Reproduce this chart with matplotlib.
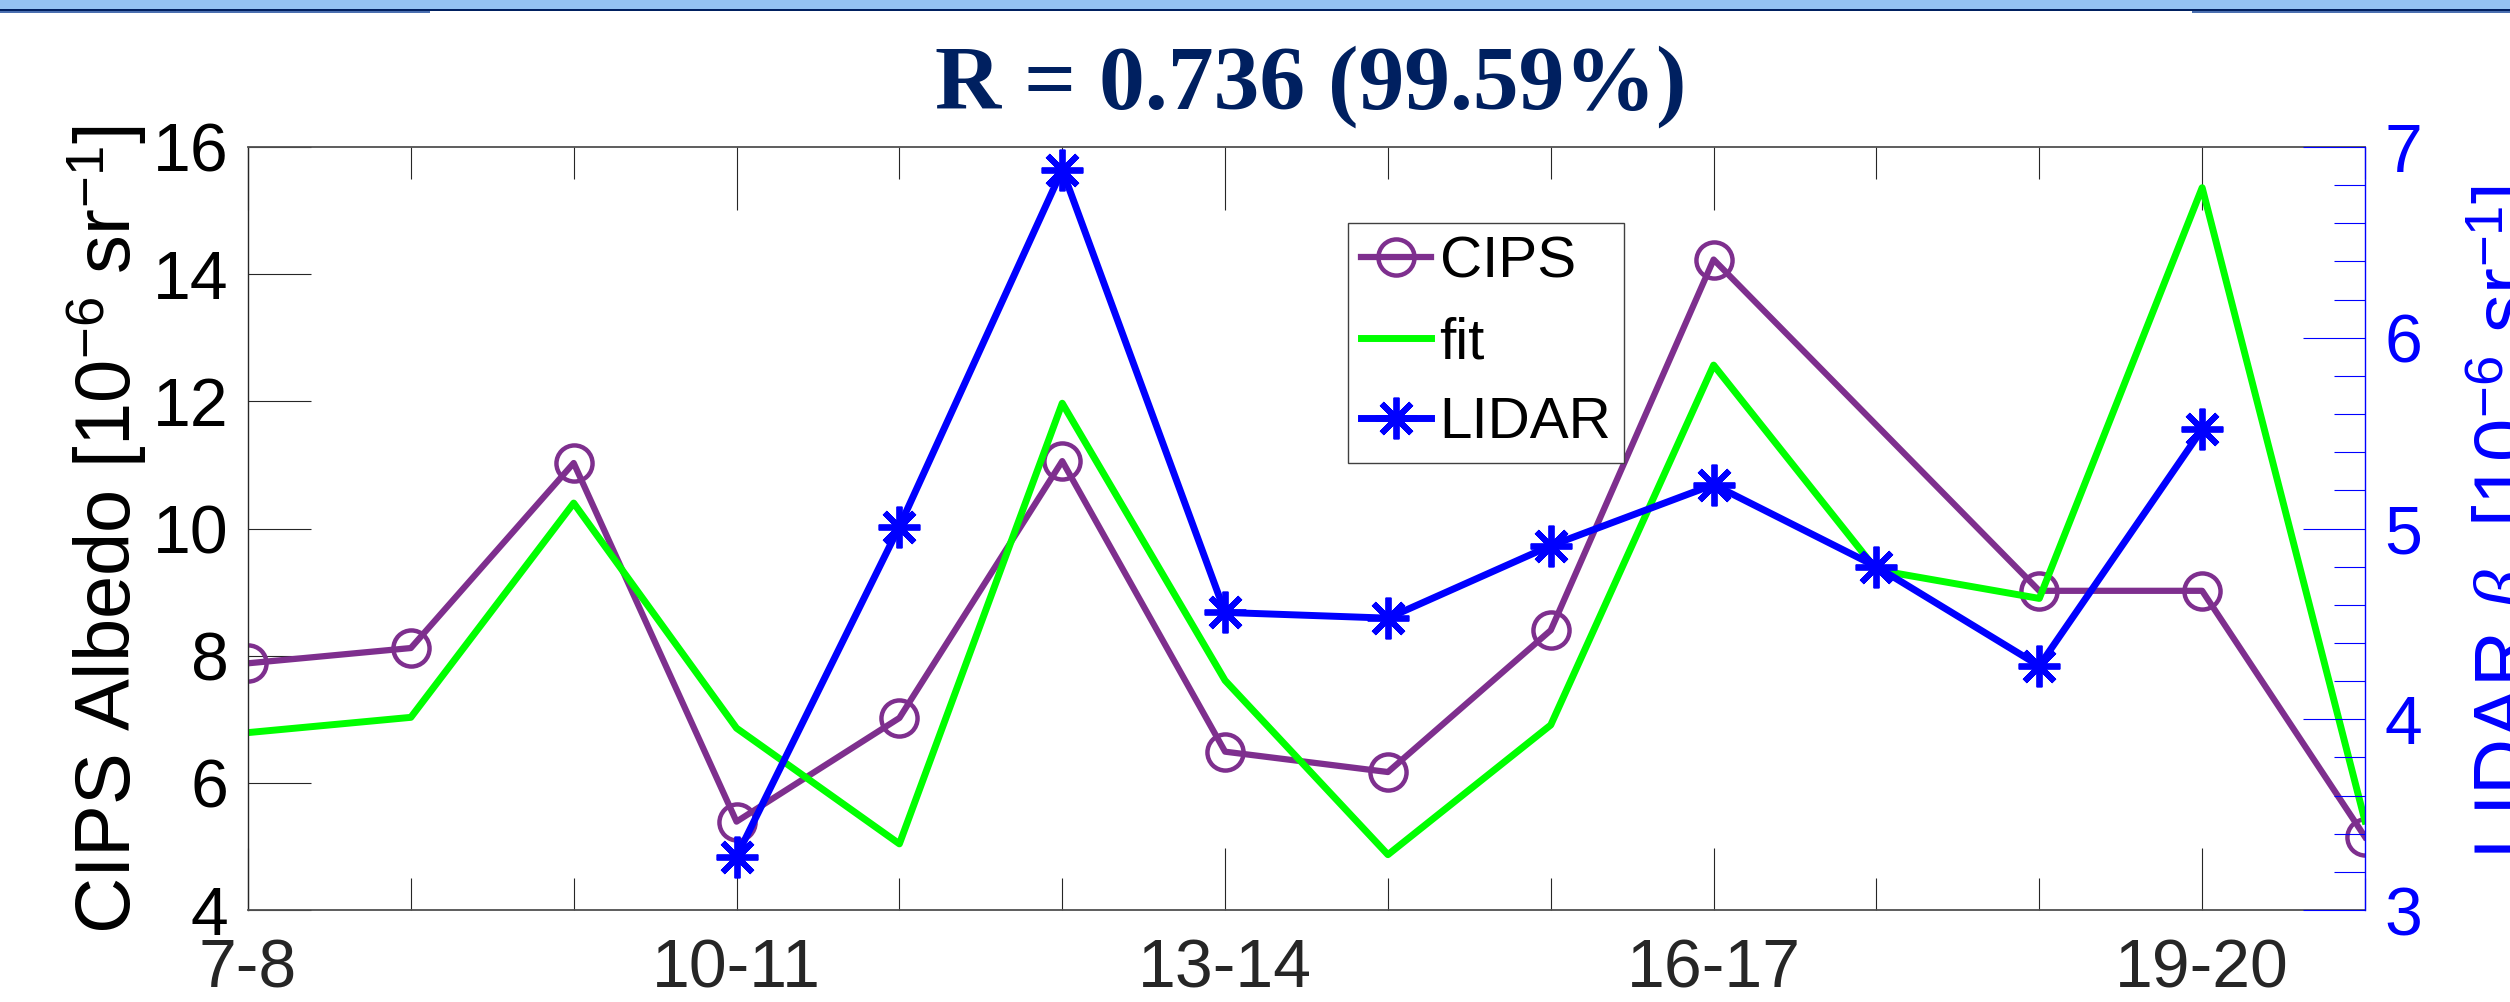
import numpy as np
import matplotlib
matplotlib.use('Agg')
import matplotlib.pyplot as plt
from matplotlib.patches import Rectangle

plt.rcParams['font.family'] = ['Liberation Sans', 'DejaVu Sans']
plt.rcParams['mathtext.fontset'] = 'custom'
plt.rcParams['mathtext.rm'] = 'Liberation Sans'
plt.rcParams['mathtext.it'] = 'Liberation Serif:italic'

# day pairs on the x axis
periods = ['7-8', '8-9', '9-10', '10-11', '11-12', '12-13', '13-14',
           '14-15', '15-16', '16-17', '17-18', '18-19', '19-20', '20-21']
shown_labels = ['7-8', '10-11', '13-14', '16-17', '19-20']

# CIPS albedo [1e-6 sr-1], no value for 17-18
cips = [7.88, 8.12, 11.03, 5.39, 7.02, 11.06, 6.49,
        6.17, 8.40, 14.23, np.nan, 9.02, 9.02, 5.15]
# linear fit of LIDAR onto CIPS scale
fit = [6.79, 7.03, 10.40, 6.86, 5.04, 11.97, 7.61,
       4.87, 6.91, 12.57, 9.35, 8.90, 15.36, 5.40]
# LIDAR beta [1e-6 sr-1]
lidar = [np.nan, np.nan, np.nan, 3.28, 5.01, 6.88, 4.56,
         4.53, 4.91, 5.23, 4.80, 4.28, 5.52, np.nan]

title = 'R = 0.736 (99.59%)'

purple = '#7E2F8E'
navy = '#002060'
W, H = 2510, 1002

fig = plt.figure(figsize=(W / 100, H / 100), dpi=100)

# slide header strip
fig.patches.append(Rectangle((0, 1 - 9 / H), 1, 9 / H, transform=fig.transFigure,
                             facecolor='#94C2F2', edgecolor='none'))
fig.patches.append(Rectangle((0, 1 - 11 / H), 1, 2 / H, transform=fig.transFigure,
                             facecolor=navy, edgecolor='none'))
fig.patches.append(Rectangle((0, 1 - 12.5 / H), 430 / W, 1.5 / H, transform=fig.transFigure,
                             facecolor='#4A6FB0', edgecolor='none'))
fig.patches.append(Rectangle((2192 / W, 1 - 12.5 / H), 1 - 2192 / W, 1.5 / H,
                             transform=fig.transFigure, facecolor='#4A6FB0', edgecolor='none'))

ax = fig.add_axes([248 / W, 1 - 910 / H, (2365 - 248) / W, (910 - 147) / H])
ax2 = ax.twinx()

x = np.arange(len(periods))
cips = np.array(cips)
lidar = np.array(lidar)
ok_c = ~np.isnan(cips)
ok_l = ~np.isnan(lidar)

l1, = ax.plot(x[ok_c], cips[ok_c], '-o', color=purple, lw=4.5, ms=26,
              mfc='none', mew=3.2, label='CIPS')
l2, = ax.plot(x, fit, '-', color='#00FF00', lw=5, label='fit')
l3, = ax2.plot(x[ok_l], lidar[ok_l], '-', color='#0000FF', lw=5,
               marker=(8, 2, 0), ms=30, mew=4.2, label='LIDAR')

ax.set_xlim(0, 13)
ax.set_ylim(4, 16)
ax2.set_ylim(3, 7)

ax.set_xticks([periods.index(p) for p in shown_labels])
ax.set_xticklabels(shown_labels)
ax.set_xticks(x, minor=True)
ax.set_yticks(np.arange(4, 17, 2))
ax.tick_params(axis='x', which='major', direction='in', length=45, width=0.8,
               top=True, labelsize=49, labelcolor='#262626', color='#262626', pad=20)
ax.tick_params(axis='x', which='minor', direction='in', length=23, width=0.8,
               top=True, color='#262626')
ax.tick_params(axis='y', which='major', direction='in', length=45, width=0.8,
               labelsize=49, labelcolor='black', color='#262626', pad=14,
               right=False)

ax2.set_yticks(np.arange(3, 7.1, 1))
ax2.set_yticks(np.arange(3, 7.01, 0.2), minor=True)
ax2.tick_params(axis='y', which='major', direction='in', length=45, width=0.8,
                labelsize=49, colors='#0000FF', pad=14)
ax2.tick_params(axis='y', which='minor', direction='in', length=22, width=0.8,
                colors='#0000FF')

for s in ['top', 'bottom']:
    ax.spines[s].set_color('#505050')
    ax.spines[s].set_linewidth(1.3)
ax.spines['left'].set_color('#262626')
ax.spines['left'].set_linewidth(1.0)
ax.spines['right'].set_visible(False)
for s in ['top', 'bottom', 'left']:
    ax2.spines[s].set_visible(False)
ax2.spines['right'].set_color('#0000FF')
ax2.spines['right'].set_linewidth(1.0)

leg = ax2.legend(handles=[l1, l2, l3], loc='upper left',
                 bbox_to_anchor=(0.5196, 0.9004), fontsize=42, frameon=True,
                 fancybox=False, edgecolor='#404040', framealpha=1,
                 handlelength=1.2, handletextpad=0.15, borderpad=0.22,
                 labelspacing=0.45, borderaxespad=0, numpoints=1)
leg.get_frame().set_linewidth(1.0)

fig.text(1311 / W, 1 - 109 / H, title, ha='center', va='baseline',
         fontsize=66, fontweight='bold', color=navy,
         family=['Liberation Serif', 'DejaVu Serif'])

# axis titles placed by their baseline (letters rotated, tops facing left)
fig.text(130 / W, 1 - 529.5 / H, 'CIPS Albedo [10$^{-6}$ sr$^{-1}$]',
         rotation=90, rotation_mode='anchor', ha='center', va='baseline',
         fontsize=56, color='black')
fig.text(2529 / W, 1 - 522 / H, r'LIDAR $\beta$  [10$^{-6}$ sr$^{-1}$]',
         rotation=90, rotation_mode='anchor', ha='center', va='baseline',
         fontsize=56, color='#0000FF')

fig.savefig('out.png', dpi=100)
